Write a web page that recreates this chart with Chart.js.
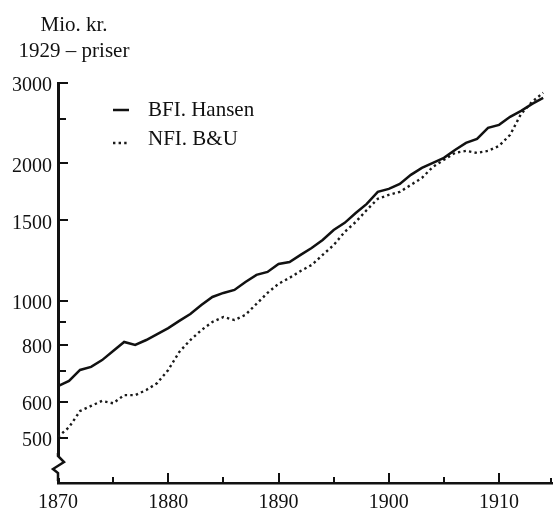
<!DOCTYPE html>
<html><head><meta charset="utf-8">
<script src="https://cdn.jsdelivr.net/npm/chart.js@4/dist/chart.umd.min.js"></script>
<style>html,body{margin:0;padding:0;background:#fff}canvas{display:block}</style>
</head><body>
<canvas id="c" width="555" height="508"></canvas>
<script>
// ---- data ----
const years = [1870,1871,1872,1873,1874,1875,1876,1877,1878,1879,
               1880,1881,1882,1883,1884,1885,1886,1887,1888,1889,
               1890,1891,1892,1893,1894,1895,1896,1897,1898,1899,
               1900,1901,1902,1903,1904,1905,1906,1907,1908,1909,
               1910,1911,1912,1913,1914];
const bfiHansen = [650,667,705,716,741,776,812,800,820,845,
                   871,903,935,978,1019,1040,1056,1099,1139,1156,
                   1204,1216,1260,1305,1359,1429,1481,1557,1630,1732,
                   1758,1803,1887,1955,2005,2056,2140,2217,2262,2392,
                   2429,2529,2607,2700,2783];
const nfiBU = [503,528,573,588,603,596,621,621,637,660,
               705,772,820,862,898,921,907,931,984,1040,
               1089,1122,1162,1197,1260,1324,1415,1488,1580,1672,
               1706,1732,1794,1858,1965,2036,2108,2130,2108,2130,
               2184,2309,2568,2728,2856];
const seriesNames = ["BFI. Hansen", "NFI. B&U"];
const yTickValues = [500,600,700,800,900,1000,1500,2000,2500,3000];
const yTickLabels = [500,600,800,1000,1500,2000,3000];
const xTickYears = [1870,1875,1880,1885,1890,1895,1900,1905,1910];
const xLabelYears = [1870,1880,1890,1900,1910];
const titleLines = ["Mio. kr.", "1929 – priser"];

const FONT = "'Liberation Serif', 'Times New Roman', serif";
const INK = '#111';

const decor = {
  id: 'decor',
  afterDraw(chart) {
    const {ctx, chartArea: a, scales: {x, y}} = chart;
    ctx.save();
    ctx.strokeStyle = INK;
    ctx.lineCap = 'butt';
    // inward tick marks
    ctx.lineWidth = 2;
    yTickValues.forEach(v => {
      const py = Math.round(y.getPixelForValue(v));
      const len = yTickLabels.includes(v) ? 10 : 8;
      ctx.beginPath(); ctx.moveTo(a.left, py); ctx.lineTo(a.left + len, py); ctx.stroke();
    });
    xTickYears.forEach(v => {
      const px = Math.round(x.getPixelForValue(v));
      const len = xLabelYears.includes(v) ? 10 : 6;
      ctx.beginPath(); ctx.moveTo(px, a.bottom); ctx.lineTo(px, a.bottom - len); ctx.stroke();
    });
    // upturned end of x axis
    ctx.beginPath(); ctx.moveTo(a.right - 1, a.bottom); ctx.lineTo(a.right - 1, a.bottom - 5); ctx.stroke();
    // axis break (zigzag) on y axis
    ctx.fillStyle = '#fff';
    ctx.fillRect(a.left - 3, a.bottom - 27, 7, 22);
    ctx.lineWidth = 2.5;
    ctx.lineJoin = 'miter';
    ctx.beginPath();
    ctx.moveTo(a.left, a.bottom - 30);
    ctx.lineTo(a.left, a.bottom - 27);
    ctx.lineTo(a.left + 6, a.bottom - 21);
    ctx.lineTo(a.left - 5, a.bottom - 14);
    ctx.lineTo(a.left, a.bottom - 10);
    ctx.lineTo(a.left, a.bottom - 2);
    ctx.stroke();

    // title (unit) text
    ctx.fillStyle = INK;
    ctx.font = "21px " + FONT;
    ctx.textAlign = 'center';
    ctx.textBaseline = 'alphabetic';
    ctx.fillText(titleLines[0], 74, 31);
    ctx.fillText(titleLines[1], 74, 57);

    // legend
    const ds = chart.data.datasets;
    ctx.textAlign = 'left';
    ctx.font = "21px " + FONT;
    ctx.lineWidth = ds[0].borderWidth;
    ctx.strokeStyle = ds[0].borderColor;
    ctx.setLineDash([]);
    ctx.beginPath(); ctx.moveTo(113, 110); ctx.lineTo(129, 110); ctx.stroke();
    ctx.fillText(ds[0].label, 148, 116);
    ctx.lineWidth = ds[1].borderWidth;
    ctx.strokeStyle = ds[1].borderColor;
    ctx.setLineDash(ds[1].borderDash);
    ctx.beginPath(); ctx.moveTo(113, 143); ctx.lineTo(129, 143); ctx.stroke();
    ctx.setLineDash([]);
    ctx.fillText(ds[1].label, 148, 145);
    ctx.restore();
  }
};

new Chart(document.getElementById('c'), {
  type: 'line',
  data: {
    datasets: [
      {
        label: seriesNames[0],
        data: years.map((yr, i) => ({x: yr, y: bfiHansen[i]})),
        borderColor: INK, borderWidth: 2.5, pointRadius: 0, tension: 0, fill: false
      },
      {
        label: seriesNames[1],
        data: years.map((yr, i) => ({x: yr, y: nfiBU[i]})),
        borderColor: '#1a1a1a', borderWidth: 2.4, borderDash: [2.4, 3.2], borderCapStyle: 'butt',
        pointRadius: 0, tension: 0, fill: false
      }
    ]
  },
  options: {
    responsive: false,
    devicePixelRatio: 1,
    animation: false,
    events: [],
    layout: {padding: {top: 83, right: 3, left: 0, bottom: 0}},
    plugins: {legend: {display: false}, tooltip: {enabled: false}, title: {display: false}},
    scales: {
      x: {
        type: 'linear', min: 1870, max: 1914.8,
        grid: {display: false, drawTicks: false},
        border: {display: true, color: INK, width: 2.5},
        afterBuildTicks: s => { s.ticks = xTickYears.map(v => ({value: v})); },
        afterFit: s => { s.height = 25; },
        ticks: {
          autoSkip: false, maxRotation: 0, padding: 8, color: INK,
          font: {family: FONT, size: 20},
          callback: v => xLabelYears.includes(v) ? String(v) : ''
        }
      },
      y: {
        type: 'logarithmic', min: 398.5, max: 3000,
        grid: {display: false, drawTicks: false},
        border: {display: true, color: INK, width: 3},
        afterBuildTicks: s => { s.ticks = yTickValues.map(v => ({value: v})); },
        afterFit: s => { s.width = 58; },
        ticks: {
          autoSkip: false, padding: 6, color: INK, labelOffset: 3,
          font: {family: FONT, size: 20},
          callback: v => yTickLabels.includes(v) ? String(v) : ''
        }
      }
    }
  },
  plugins: [decor]
});
</script>
</body></html>
